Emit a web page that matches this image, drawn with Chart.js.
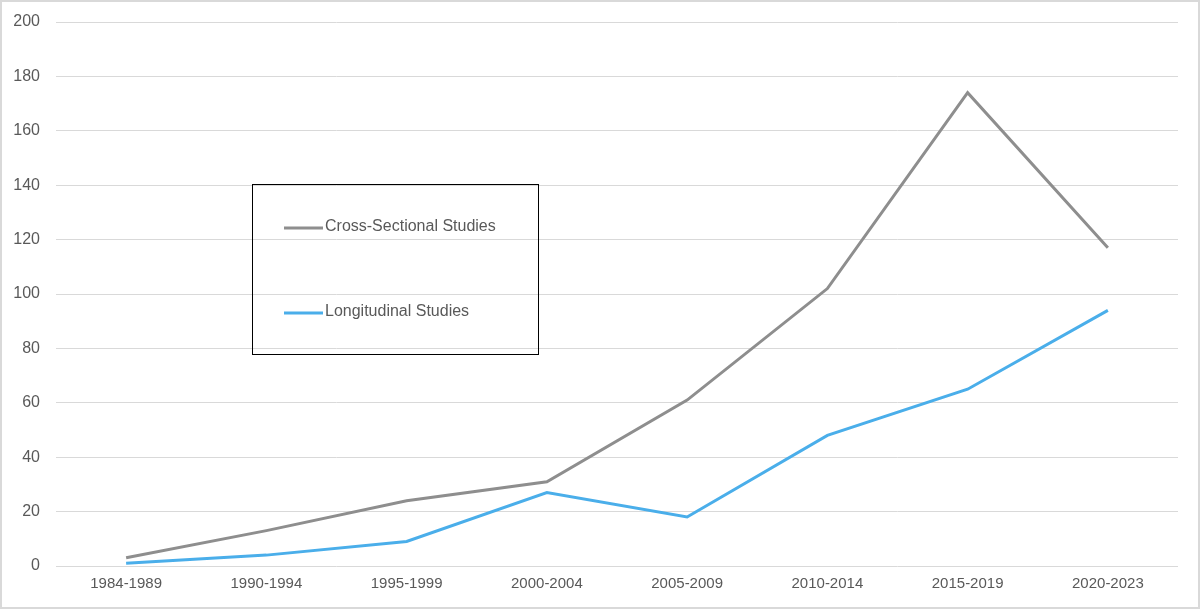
<!DOCTYPE html>
<html>
<head>
<meta charset="utf-8">
<script src="https://cdn.jsdelivr.net/npm/chart.js@4"></script>
<style>
  html, body { margin: 0; padding: 0; background: #fff; }
  #wrap { width: 1200px; height: 609px; position: relative; }
</style>
</head>
<body>
<div id="wrap"><canvas id="chart" width="1200" height="609"></canvas></div>
<script>
const categories = ['1984-1989', '1990-1994', '1995-1999', '2000-2004', '2005-2009', '2010-2014', '2015-2019', '2020-2023']
const crossSectional = [3, 13, 24, 31, 61, 102, 174, 117]
const longitudinal = [1, 4, 9, 27, 18, 48, 65, 94]
const yMin = 0
const yMax = 200
const yStep = 20

const font = "'Liberation Sans', Arial, sans-serif"
const textColor = '#595959'

// legend box drawn inside the plot, like the original
const boxLegend = {
  id: 'boxLegend',
  afterDraw(chart) {
    const ctx = chart.ctx
    ctx.save()
    ctx.strokeStyle = '#000'
    ctx.lineWidth = 1
    ctx.strokeRect(252.5, 184.5, 286, 170)
    const rows = [227, 312]
    chart.data.datasets.forEach((ds, i) => {
      const y = rows[i]
      ctx.strokeStyle = ds.borderColor
      ctx.lineWidth = 3
      ctx.beginPath()
      ctx.moveTo(284, y + 1)
      ctx.lineTo(323, y + 1)
      ctx.stroke()
      ctx.fillStyle = textColor
      ctx.font = '16px ' + font
      ctx.textBaseline = 'middle'
      ctx.fillText(ds.label, 325, y)
    })
    ctx.restore()
  },
  beforeDraw(chart) {
    const ctx = chart.ctx
    ctx.save()
    ctx.fillStyle = '#fff'
    ctx.fillRect(0, 0, chart.width, chart.height)
    ctx.strokeStyle = '#d9d9d9'
    ctx.lineWidth = 2
    ctx.strokeRect(1, 1, chart.width - 2, chart.height - 2)
    ctx.restore()
  }
}

new Chart(document.getElementById('chart'), {
  type: 'line',
  data: {
    labels: categories,
    datasets: [
      {
        label: 'Cross-Sectional Studies',
        data: crossSectional,
        borderColor: '#8e8e8e',
        backgroundColor: '#8e8e8e',
        borderWidth: 3,
        pointRadius: 0,
        tension: 0
      },
      {
        label: 'Longitudinal Studies',
        data: longitudinal,
        borderColor: '#4aaeea',
        backgroundColor: '#4aaeea',
        borderWidth: 3,
        pointRadius: 0,
        tension: 0
      }
    ]
  },
  options: {
    responsive: false,
    animation: false,
    devicePixelRatio: 1,
    layout: { padding: { top: 22, right: 22, bottom: 0, left: 0 } },
    plugins: {
      legend: { display: false },
      tooltip: { enabled: false }
    },
    scales: {
      x: {
        offset: true,
        grid: { display: false, drawTicks: false },
        border: { display: false },
        ticks: { color: textColor, font: { family: font, size: 15 }, padding: 9, maxRotation: 0 },
        afterFit: s => { s.height = 43 }
      },
      y: {
        min: yMin,
        max: yMax,
        grid: { color: '#d9d9d9', lineWidth: 1, drawTicks: false },
        border: { display: false },
        ticks: { stepSize: yStep, color: textColor, font: { family: font, size: 16 }, padding: 16 },
        afterFit: s => { s.width = 56; s.paddingTop = 0; s.paddingBottom = 0 }
      }
    }
  },
  plugins: [boxLegend]
})
</script>
</body>
</html>
